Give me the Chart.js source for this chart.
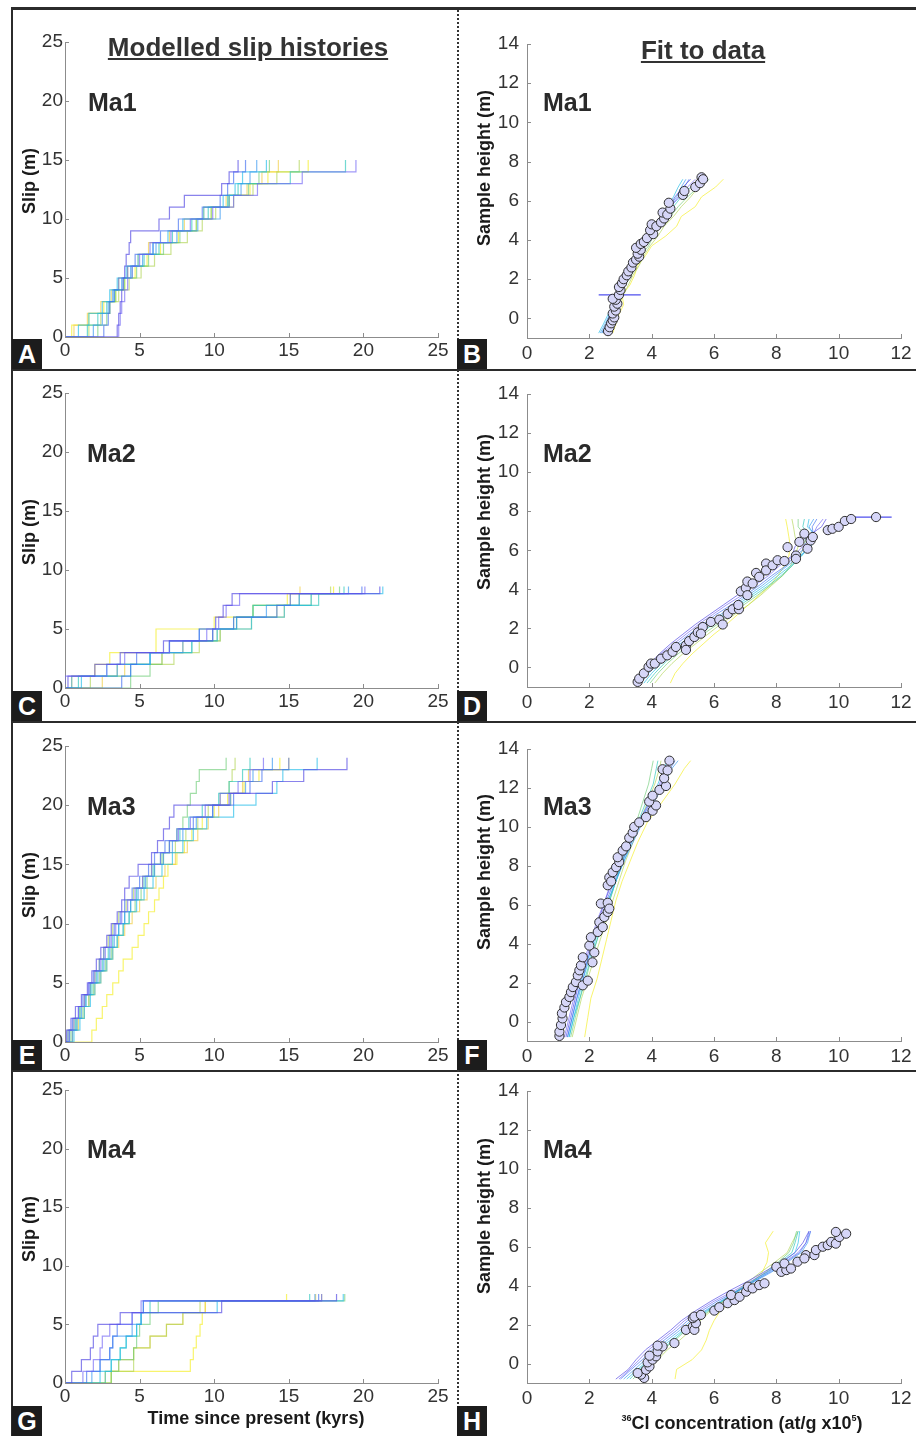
<!DOCTYPE html>
<html>
<head>
<meta charset="utf-8">
<script src="https://cdn.jsdelivr.net/npm/chart.js@4.4.0/dist/chart.umd.min.js"></script>
<style>
  body { margin: 0; background: #fff; width: 916px; height: 1436px; position: relative; overflow: hidden;
         font-family: "Liberation Sans", Arial, sans-serif; color: #222; }
  canvas { position: absolute; }
  .line { position: absolute; background: #2b2b2b; }
  .dots { position: absolute; border-left: 2px dotted #333; }
  .letter { position: absolute; width: 30px; height: 30px; background: #1c1c1c; color: #fff; font-weight: bold;
            font-size: 25px; line-height: 30px; text-align: center; z-index: 5; }
  .ma { position: absolute; font-weight: bold; font-size: 25px; line-height: 1; color: #2a2a2a; }
  .head { position: absolute; font-weight: bold; font-size: 26px; line-height: 1; color: #333;
          text-decoration: underline; transform: translateX(-50%); white-space: nowrap; }
  .ytitle { position: absolute; font-weight: bold; font-size: 18px; line-height: 1; color: #1a1a1a; white-space: nowrap;
            transform: translate(-50%, -50%) rotate(-90deg); }
  .xtitle { position: absolute; font-weight: bold; font-size: 18px; line-height: 1; color: #1a1a1a; white-space: nowrap;
            transform: translateX(-50%); }
  .xtitle sup { font-size: 9px; vertical-align: 8px; }
</style>
</head>
<body>

<div class="line" style="left:11px;top:7px;width:905px;height:3px"></div>
<div class="line" style="left:11px;top:7px;width:2px;height:1429px"></div>
<div class="line" style="left:11px;top:369px;width:905px;height:2px"></div>
<div class="line" style="left:11px;top:721px;width:905px;height:2px"></div>
<div class="line" style="left:11px;top:1070px;width:905px;height:2px"></div>
<div class="dots" style="left:457px;top:10px;height:1426px"></div>

<canvas id="cA"></canvas><canvas id="cB"></canvas>
<canvas id="cC"></canvas><canvas id="cD"></canvas>
<canvas id="cE"></canvas><canvas id="cF"></canvas>
<canvas id="cG"></canvas><canvas id="cH"></canvas>

<div class="head" style="left:248px;top:34px">Modelled slip histories</div>
<div class="head" style="left:703px;top:37px">Fit to data</div>

<div class="ma" style="left:88px;top:90px">Ma1</div>
<div class="ma" style="left:543px;top:90px">Ma1</div>
<div class="ma" style="left:87px;top:441px">Ma2</div>
<div class="ma" style="left:543px;top:441px">Ma2</div>
<div class="ma" style="left:87px;top:794px">Ma3</div>
<div class="ma" style="left:543px;top:794px">Ma3</div>
<div class="ma" style="left:87px;top:1137px">Ma4</div>
<div class="ma" style="left:543px;top:1137px">Ma4</div>

<div class="ytitle" style="left:29px;top:181px">Slip (m)</div>
<div class="ytitle" style="left:29px;top:532px">Slip (m)</div>
<div class="ytitle" style="left:29px;top:885px">Slip (m)</div>
<div class="ytitle" style="left:29px;top:1229px">Slip (m)</div>
<div class="ytitle" style="left:484px;top:168px">Sample height (m)</div>
<div class="ytitle" style="left:484px;top:512px">Sample height (m)</div>
<div class="ytitle" style="left:484px;top:872px">Sample height (m)</div>
<div class="ytitle" style="left:484px;top:1216px">Sample height (m)</div>

<div class="xtitle" style="left:256px;top:1409px">Time since present (kyrs)</div>
<div class="xtitle" style="left:742px;top:1414px"><sup>36</sup>Cl concentration (at/g x10<sup>5</sup>)</div>

<div class="letter" style="left:12px;top:339px">A</div>
<div class="letter" style="left:457px;top:339px">B</div>
<div class="letter" style="left:12px;top:691px">C</div>
<div class="letter" style="left:457px;top:691px">D</div>
<div class="letter" style="left:12px;top:1040px">E</div>
<div class="letter" style="left:457px;top:1040px">F</div>
<div class="letter" style="left:12px;top:1406px">G</div>
<div class="letter" style="left:457px;top:1406px">H</div>

<script>
// tick labels
const slipTicks = [0, 5, 10, 15, 20, 25];
const concTicks = [0, 2, 4, 6, 8, 10, 12];
const heightTicks = [0, 2, 4, 6, 8, 10, 12, 14];

// purple -> yellow, one colour per model run
const lineColors = ['rgba(88,78,228,0.7)', 'rgba(112,100,245,0.65)', 'rgba(62,108,240,0.65)', 'rgba(52,150,240,0.65)',
  'rgba(30,188,232,0.65)', 'rgba(40,196,186,0.65)', 'rgba(110,204,120,0.65)', 'rgba(176,212,84,0.65)',
  'rgba(240,204,64,0.65)', 'rgba(246,240,60,0.75)'];
const profileColorIdx = [0, 1, 2, 3, 4, 5, 6, 7, 9];

// ---- modelled slip histories: time (kyr) of each 1 m step, and end of record ----
const ma1Steps = [
  [3.5,3.6,3.7,3.8,3.9,4.0,4.1,4.3,4.4,6.3,7.0,8.0,10.5,11.0],
  [3.6,3.7,3.8,4.0,4.2,4.5,5.0,5.7,7.1,8.4,9.9,11.3,12.9,15.9],
  [2.6,2.9,3.0,3.3,3.6,4.2,4.7,5.9,6.4,7.6,9.2,10.4,10.9,11.3],
  [1.9,2.5,2.9,3.2,3.8,4.4,5.2,6.1,7.5,8.9,10.4,11.0,11.8,12.4],
  [0.9,1.6,2.5,3.0,3.5,4.1,4.9,5.9,6.9,7.9,9.3,10.6,11.4,11.9],
  [1.5,2.2,2.8,3.3,3.9,4.5,5.3,6.3,7.2,8.5,9.6,10.9,11.6,15.1],
  [2.2,2.8,3.0,3.4,4.0,4.8,5.6,6.6,7.7,8.8,9.8,11.0,12.3,13.0],
  [1.6,2.4,3.0,3.6,4.3,5.1,6.0,7.1,8.2,9.2,10.1,11.3,12.6,14.2],
  [0.6,1.5,2.4,3.1,3.6,4.2,4.9,5.6,7.0,8.0,9.3,10.8,12.2,13.2],
  [0.45,1.6,2.6,3.4,4.0,4.7,5.5,6.4,7.6,8.8,9.8,11.0,12.4,13.6]
];
const ma1Ends = [11.6, 19.5, 12.1, 12.85, 13.5, 18.8, 13.7, 15.7, 14.3, 16.3];
const ma1Top = 15;

const ma2Steps = [
  [0.2,2.0,3.7,6.6,9.9,10.1,10.6,11.2],
  [0.0,2.8,4.0,7.0,9.5,10.3,10.8,11.7],
  [3.8,4.4,4.8,7.0,9.0,11.3,14.2,15.1],
  [0.45,3.5,5.7,7.9,9.0,11.5,13.5,15.7],
  [1.1,2.8,5.7,8.5,10.2,12.5,14.7,16.5],
  [0.9,4.4,5.7,7.0,9.9,11.5,12.6,17.0],
  [4.4,5.7,6.5,8.5,10.4,11.3,12.6,15.7],
  [1.7,3.5,7.3,9.0,10.2,12.5,14.2,16.5],
  [2.5,4.0,6.5,7.9,10.4,11.5,14.7,15.1],
  [0.45,2.0,3.0,6.1,6.1,10.0,12.6,14.9]
];
const ma2Ends = [21.1, 20.1, 19.9, 19.0, 21.3, 18.7, 18.4, 17.8, 15.75, 18.0];
const ma2Top = 8.6;

const ma3Steps = [
  [0.1,0.4,0.7,1.1,1.5,1.8,2.1,2.4,2.8,3.1,3.5,3.8,4.0,4.3,4.9,5.8,6.2,6.6,7.0,7.3,11.0,13.9,16.0],
  [0.3,0.6,0.9,1.3,1.6,2.0,2.4,2.7,3.1,3.4,3.8,4.2,4.7,5.2,5.8,6.4,7.0,7.6,8.4,9.4,10.4,11.6,12.4],
  [0.2,0.5,0.9,1.2,1.6,1.9,2.3,2.6,3.0,3.3,3.7,4.0,4.5,5.0,5.6,6.0,6.7,7.5,8.6,9.9,11.3,12.4,13.2],
  [0.5,0.8,1.1,1.4,1.7,2.2,2.6,3.0,3.3,3.6,4.0,4.4,4.9,5.4,6.0,6.6,7.2,7.9,8.8,9.9,11.1,12.1,12.6],
  [0.6,1.0,1.3,1.7,2.0,2.4,2.8,3.2,3.5,3.9,4.3,4.8,5.3,5.9,6.5,7.2,7.9,8.6,9.5,11.3,12.8,14.2,14.6],
  [0.3,0.7,1.0,1.4,1.8,2.1,2.5,2.9,3.2,3.6,4.0,4.4,4.8,5.3,5.9,6.4,7.0,7.7,8.3,9.2,10.3,11.0,11.9],
  [0.4,0.8,1.2,1.6,1.9,2.3,2.7,3.1,3.5,3.9,4.3,4.7,5.1,5.5,6.0,6.5,7.0,7.5,7.9,8.2,8.4,8.8,9.0],
  [0.2,0.6,1.0,1.3,1.7,2.0,2.3,2.6,2.9,3.2,3.6,4.1,4.6,5.2,5.8,6.6,7.4,8.1,8.9,9.6,10.4,11.0,11.2],
  [0.5,0.9,1.3,1.6,2.0,2.4,2.8,3.2,3.6,4.0,4.5,5.0,5.5,6.1,6.7,7.4,8.2,8.9,9.6,10.3,11.1,11.9,12.3],
  [1.8,2.1,2.5,2.8,3.2,3.6,3.9,4.5,4.9,5.3,5.6,6.0,6.3,6.6,6.9,7.5,8.0,8.5,9.2,10.0,10.9,12.0,13.0]
];
const ma3Ends = [18.9, 13.3, 15.0, 13.9, 16.9, 12.4, 10.8, 11.4, 15.0, 14.4];
const ma3Top = 24;

const ma4Steps = [
  [0.45,1.1,1.7,1.9,2.2,3.7,10.5],
  [1.2,1.9,2.35,2.5,3.0,4.5,5.1],
  [1.45,2.35,3.0,3.2,3.5,4.5,5.25],
  [1.8,2.35,3.0,3.2,4.5,5.1,5.25],
  [2.35,3.1,3.7,4.1,4.8,5.1,10.2],
  [2.7,3.1,3.7,4.1,4.8,5.1,5.7],
  [3.1,3.6,4.6,4.8,5.0,5.7,6.25],
  [3.1,4.6,4.6,5.7,6.8,7.9,9.05],
  [2.7,3.6,4.6,5.7,6.8,7.9,9.4],
  [3.1,8.4,8.6,8.8,9.05,9.2,9.4]
];
const ma4Ends = [18.2, 17.2, 17.0, 16.75, 18.65, 16.4, 18.75, 17.2, 16.8, 14.85];
const ma4Top = 7.6;

// ---- 36Cl data: concentration (x1e5 at/g) and sample height (m) ----
const ma1Conc = [2.6,2.65,2.7,2.75,2.8,2.75,2.85,2.8,2.9,2.85,2.75,2.95,3.0,2.95,3.05,3.1,3.2,3.25,3.35,3.4,3.5,3.6,3.55,3.65,3.5,3.65,3.75,3.85,4.05,3.95,4.0,4.15,4.3,4.4,4.35,4.5,4.6,4.55,5.0,5.05,5.4,5.55,5.6,5.65];
const ma1Height = [-0.65,-0.45,-0.25,-0.1,0.05,0.25,0.4,0.6,0.75,0.95,1.0,1.2,1.45,1.6,1.8,2.0,2.2,2.4,2.6,2.85,3.0,3.15,3.3,3.5,3.6,3.8,3.9,4.1,4.3,4.5,4.8,4.7,4.9,5.1,5.4,5.3,5.6,5.9,6.3,6.5,6.7,6.9,7.2,7.1];

const ma2Conc = [3.55,3.6,3.75,3.9,3.98,4.1,4.3,4.5,4.67,4.78,5.1,5.1,5.2,5.37,5.48,5.64,5.58,5.9,6.17,6.28,6.44,6.6,6.8,6.78,6.86,7.02,7.07,7.07,7.24,7.35,7.45,7.67,7.67,7.88,8.04,8.26,8.36,8.63,8.63,8.74,8.9,9.0,9.1,9.17,9.65,9.8,10.0,10.2,10.4,11.2];
const ma2Height = [-0.74,-0.57,-0.3,0.03,0.2,0.2,0.45,0.62,0.8,1.05,1.13,0.9,1.35,1.56,1.8,2.07,1.73,2.33,2.45,2.2,2.74,2.98,2.98,3.2,3.9,4.07,4.4,3.7,4.3,4.84,4.64,5.32,4.97,5.23,5.49,5.45,6.16,5.73,5.56,6.43,6.85,6.08,6.5,6.68,7.03,7.1,7.2,7.5,7.6,7.7];

const ma3Conc = [1.04,1.04,1.09,1.14,1.12,1.2,1.25,1.36,1.41,1.47,1.57,1.79,1.95,1.63,1.68,1.73,1.79,2.1,2.16,2.0,2.05,2.27,2.32,2.43,2.48,2.59,2.37,2.59,2.64,2.59,2.64,2.7,2.75,2.86,2.96,2.91,3.07,3.18,3.28,3.39,3.44,3.6,3.82,4.03,4.14,3.92,4.03,4.25,4.46,4.4,4.35,4.51,4.57];
const ma3Height = [-0.74,-0.52,-0.18,0.16,0.42,0.72,1.0,1.26,1.51,1.77,2.03,1.86,2.1,2.37,2.63,2.88,3.3,3.04,3.55,3.9,4.33,4.6,5.1,4.85,5.37,5.63,6.06,6.1,5.8,7.0,7.4,7.2,7.67,7.93,8.19,8.44,8.78,9.0,9.44,9.7,10.0,10.23,10.5,10.83,11.1,11.3,11.6,11.9,12.1,12.5,12.96,12.9,13.4];

const ma4Conc = [3.76,3.66,3.55,3.82,3.93,3.87,4.03,4.14,3.93,4.19,4.35,4.19,4.73,5.1,5.32,5.37,5.42,5.32,5.37,5.58,6.01,6.17,6.44,6.66,6.55,6.82,7.03,7.09,7.24,7.45,7.62,8.0,8.16,8.32,8.26,8.47,8.68,8.95,8.9,9.22,9.27,9.49,9.65,9.76,9.91,10.02,9.91,10.24];
const ma4Height = [-0.74,-0.57,-0.49,-0.32,-0.15,0.06,0.2,0.37,0.4,0.62,0.88,0.92,1.05,1.73,1.9,1.73,2.07,2.33,2.41,2.5,2.72,2.89,3.1,3.26,3.52,3.43,3.69,3.95,3.86,4.03,4.12,4.97,4.71,4.8,5.14,4.88,5.23,5.57,5.4,5.57,5.83,6.0,6.08,6.25,6.16,6.5,6.76,6.67];

// big uncertainty bars
const ma1ErrConc = [2.3, 3.65], ma1ErrHeight = [1.2, 1.2];
const ma2ErrConc = [10.5, 11.7], ma2ErrHeight = [7.7, 7.7];

// ---- modelled concentration profiles (x1e5 at/g) at fixed heights ----
const ma1ModelHeights = [-0.75,-0.3,0.2,0.7,1.2,1.7,2.2,2.7,3.2,3.7,4.2,4.7,5.2,5.7,6.2,6.7,7.1];
const ma1Model = [
  [2.45,2.55,2.7,2.8,2.95,3.0,3.15,3.3,3.45,3.6,3.85,4.05,4.3,4.55,4.75,5.0,5.25],
  [2.5,2.6,2.75,2.85,2.9,3.05,3.2,3.35,3.5,3.7,3.85,4.1,4.35,4.6,4.85,5.15,5.4],
  [2.4,2.55,2.65,2.8,2.95,3.05,3.2,3.3,3.55,3.65,3.9,4.15,4.4,4.6,4.9,5.05,5.2],
  [2.35,2.5,2.65,2.75,2.9,3.05,3.15,3.35,3.5,3.7,3.9,4.15,4.35,4.55,4.8,4.95,5.1],
  [2.3,2.45,2.6,2.75,2.85,3.0,3.15,3.3,3.45,3.65,3.85,4.05,4.3,4.5,4.7,4.85,5.0],
  [2.4,2.55,2.7,2.85,3.0,3.1,3.25,3.45,3.6,3.75,3.95,4.25,4.45,4.7,4.95,5.25,5.55],
  [2.45,2.6,2.75,2.9,3.05,3.15,3.35,3.5,3.65,3.9,4.05,4.3,4.6,4.85,5.15,5.5,5.85],
  [2.55,2.7,2.85,2.95,3.1,3.25,3.4,3.6,3.75,3.95,4.2,4.4,4.7,4.95,5.25,5.5,5.75],
  [2.75,2.85,2.95,3.1,3.05,3.3,3.45,3.55,3.8,4.0,4.45,4.8,4.95,5.4,5.6,6.05,6.3]
];

const ma2ModelHeights = [-0.8,-0.3,0.2,0.7,1.2,1.7,2.2,2.7,3.2,3.7,4.2,4.7,5.2,5.7,6.2,6.7,7.2,7.6];
const ma2Model = [
  [3.5,3.7,3.95,4.25,4.6,5.0,5.4,5.85,6.3,6.75,7.2,7.6,8.0,8.5,8.6,9.0,9.45,9.6],
  [3.55,3.8,4.05,4.3,4.7,5.1,5.5,5.95,6.4,6.9,7.3,7.75,8.1,8.55,8.85,9.15,9.3,9.5],
  [3.6,3.8,4.1,4.45,4.8,5.2,5.65,6.05,6.55,7.0,7.45,7.85,8.3,8.6,9.0,9.2,9.15,9.3],
  [3.65,3.9,4.2,4.5,4.9,5.35,5.75,6.2,6.65,7.1,7.55,7.95,8.35,8.75,9.1,9.25,9.05,9.2],
  [3.75,4.0,4.3,4.65,5.0,5.4,5.85,6.3,6.75,7.2,7.65,8.05,8.45,8.8,9.1,9.3,9.0,9.05],
  [3.85,4.1,4.4,4.7,5.1,5.55,5.95,6.4,6.85,7.3,7.75,8.15,8.5,8.8,9.05,9.1,8.85,8.9],
  [3.95,4.2,4.5,4.85,5.25,5.65,6.1,6.5,6.95,7.4,7.8,8.2,8.5,8.75,8.9,8.95,8.7,8.7],
  [4.1,4.35,4.65,5.0,5.4,5.8,6.2,6.65,7.1,7.5,7.85,8.2,8.45,8.6,8.7,8.6,8.55,8.5],
  [4.6,4.75,5.0,5.3,5.65,6.0,6.4,6.75,7.1,7.45,7.8,8.05,8.25,8.4,8.45,8.4,8.35,8.3]
];

const ma3ModelHeights = [-0.8,0.2,1.2,2.2,3.2,4.2,5.2,6.2,7.2,8.2,9.2,10.2,11.2,12.2,13.0,13.4];
const ma3Model = [
  [1.25,1.4,1.55,1.7,1.9,2.1,2.3,2.5,2.75,3.0,3.3,3.6,3.95,4.3,4.5,4.6],
  [1.2,1.35,1.5,1.7,1.85,2.05,2.25,2.5,2.7,2.95,3.25,3.55,3.9,4.25,4.45,4.55],
  [1.3,1.45,1.6,1.8,1.95,2.15,2.35,2.55,2.8,3.05,3.35,3.65,4.0,4.35,4.6,4.75],
  [1.3,1.45,1.6,1.75,1.95,2.15,2.4,2.6,2.85,3.1,3.4,3.7,4.05,4.4,4.65,4.85],
  [1.35,1.5,1.65,1.8,2.0,2.2,2.4,2.6,2.85,3.1,3.35,3.6,3.9,4.2,4.4,4.5],
  [1.35,1.5,1.7,1.85,2.05,2.25,2.45,2.65,2.85,3.05,3.3,3.55,3.8,4.05,4.15,4.2],
  [1.4,1.55,1.7,1.9,2.05,2.25,2.45,2.65,2.85,3.05,3.25,3.5,3.7,3.9,4.0,4.05],
  [1.45,1.6,1.75,1.95,2.15,2.35,2.55,2.75,2.95,3.15,3.4,3.6,3.85,4.1,4.25,4.3],
  [1.85,1.95,2.05,2.25,2.4,2.55,2.7,2.85,3.05,3.3,3.55,3.85,4.3,4.75,5.05,5.25]
];

const ma4ModelHeights = [-0.8,-0.3,0.2,0.7,1.2,1.7,2.2,2.7,3.2,3.7,4.2,4.7,5.2,5.7,6.2,6.8];
const ma4Model = [
  [2.85,3.25,3.5,3.8,4.2,4.6,4.95,5.4,5.9,6.45,7.05,7.6,8.15,8.6,8.85,9.05],
  [2.95,3.3,3.6,3.9,4.3,4.7,5.05,5.5,6.0,6.6,7.15,7.7,8.25,8.7,8.95,9.1],
  [3.0,3.35,3.7,4.0,4.4,4.8,5.15,5.6,6.1,6.7,7.25,7.8,8.3,8.75,8.95,9.05],
  [3.1,3.45,3.8,4.1,4.5,4.9,5.25,5.7,6.2,6.75,7.3,7.85,8.35,8.8,9.0,9.1],
  [3.2,3.55,3.9,4.2,4.6,5.0,5.35,5.75,6.25,6.75,7.25,7.75,8.2,8.6,8.7,8.75],
  [3.3,3.6,3.95,4.3,4.7,5.05,5.4,5.8,6.25,6.7,7.2,7.7,8.1,8.5,8.6,8.7],
  [3.4,3.7,4.0,4.35,4.75,5.1,5.45,5.85,6.3,6.75,7.2,7.65,8.05,8.4,8.55,8.65],
  [3.6,3.9,4.2,4.5,4.9,5.25,5.55,5.9,6.3,6.7,7.1,7.5,7.95,8.35,8.5,8.7],
  [4.75,4.8,5.3,5.6,5.75,5.85,6.0,6.2,6.55,6.9,7.25,7.55,7.7,7.75,7.65,7.9]
];

// ---------------------------------------------------------------
function slipDatasets(steps, ends, top) {
  return steps.map((s, i) => ({
    data: [{ x: 0, y: 0 }].concat(s.map((t, k) => ({ x: t, y: k + 1 })), [{ x: ends[i], y: top }]),
    showLine: true,
    stepped: 'before',
    borderColor: lineColors[i],
    borderWidth: 1.2,
    pointRadius: 0
  }));
}

function profileDatasets(conc, height, errConc, errHeight, model, modelHeights) {
  const sets = [{
    data: conc.map((c, k) => ({ x: c, y: height[k] })),
    pointRadius: 4.6,
    pointBackgroundColor: 'rgba(214,214,248,1)',
    pointBorderColor: '#2e2e2e',
    pointBorderWidth: 1
  }];
  if (errConc) {
    sets.push({
      data: errConc.map((c, k) => ({ x: c, y: errHeight[k] })),
      showLine: true, pointRadius: 0, borderColor: 'rgba(60,60,235,0.9)', borderWidth: 1.2
    });
  }
  model.forEach((xs, i) => {
    sets.push({
      data: xs.map((c, k) => ({ x: c, y: modelHeights[k] })),
      showLine: true, pointRadius: 0, borderColor: lineColors[profileColorIdx[i]], borderWidth: 1
    });
  });
  return sets;
}

const inTicks = {
  id: 'inTicks',
  afterDraw(chart) {
    const { ctx, chartArea: a } = chart;
    const x = chart.scales.x, y = chart.scales.y;
    ctx.save();
    ctx.strokeStyle = '#8c8c8c';
    ctx.lineWidth = 1;
    ctx.beginPath();
    x.ticks.forEach(t => {
      const px = Math.round(x.getPixelForValue(t.value)) + 0.5;
      ctx.moveTo(px, a.bottom); ctx.lineTo(px, a.bottom - 4);
    });
    y.ticks.forEach(t => {
      const py = Math.round(y.getPixelForValue(t.value)) + 0.5;
      ctx.moveTo(a.left, py); ctx.lineTo(a.left + 4, py);
    });
    ctx.stroke();
    ctx.restore();
  }
};

function makePanel(id, box, area, xr, yr, xTicks, yTicks, yPad, xPad, datasets) {
  const cv = document.getElementById(id);
  cv.width = box.r - box.l;
  cv.height = box.b - box.t;
  cv.style.left = box.l + 'px';
  cv.style.top = box.t + 'px';
  const yW = area.l - box.l, xH = box.b - area.b;
  const tickFont = { family: 'Liberation Sans', size: 19 };
  new Chart(cv, {
    type: 'scatter',
    data: { datasets: datasets },
    options: {
      responsive: false,
      animation: false,
      events: [],
      layout: { autoPadding: false, padding: { top: area.t - box.t, right: box.r - area.r, left: 0, bottom: 0 } },
      plugins: { legend: { display: false }, tooltip: { enabled: false } },
      scales: {
        x: {
          type: 'linear', min: xr[0], max: xr[1],
          afterBuildTicks: s => { s.ticks = xTicks.map(v => ({ value: v })); },
          afterFit: s => { s.height = xH; s.paddingLeft = 0; s.paddingRight = 0; },
          grid: { display: false, drawTicks: false },
          border: { display: true, color: '#8c8c8c', width: 1 },
          ticks: { font: tickFont, color: '#333', padding: xPad, maxRotation: 0, autoSkip: false }
        },
        y: {
          type: 'linear', min: yr[0], max: yr[1],
          afterBuildTicks: s => { s.ticks = yTicks.map(v => ({ value: v })); },
          afterFit: s => { s.width = yW; s.paddingTop = 0; s.paddingBottom = 0; },
          grid: { display: false, drawTicks: false },
          border: { display: true, color: '#8c8c8c', width: 1 },
          ticks: { font: tickFont, color: '#333', padding: yPad, autoSkip: false }
        }
      }
    },
    plugins: [inTicks]
  });
}

const leftBox = [[14, 11, 456, 369], [14, 373, 456, 721], [14, 724, 456, 1070], [14, 1074, 456, 1436]];
const rightBox = [[460, 11, 916, 369], [460, 373, 916, 721], [460, 724, 916, 1070], [460, 1074, 916, 1436]];
const leftArea = [[65, 42, 438, 337], [65, 393, 438, 688], [65, 746, 438, 1042], [65, 1090, 438, 1383]];
const rightArea = [[527, 44, 901, 338], [527, 394, 901, 687], [527, 749, 901, 1041], [527, 1091, 901, 1383]];
const rect = a => ({ l: a[0], t: a[1], r: a[2], b: a[3] });

const slipSets = [
  slipDatasets(ma1Steps, ma1Ends, ma1Top),
  slipDatasets(ma2Steps, ma2Ends, ma2Top),
  slipDatasets(ma3Steps, ma3Ends, ma3Top),
  slipDatasets(ma4Steps, ma4Ends, ma4Top)
];
const profSets = [
  profileDatasets(ma1Conc, ma1Height, ma1ErrConc, ma1ErrHeight, ma1Model, ma1ModelHeights),
  profileDatasets(ma2Conc, ma2Height, ma2ErrConc, ma2ErrHeight, ma2Model, ma2ModelHeights),
  profileDatasets(ma3Conc, ma3Height, null, null, ma3Model, ma3ModelHeights),
  profileDatasets(ma4Conc, ma4Height, null, null, ma4Model, ma4ModelHeights)
];
const leftIds = ['cA', 'cC', 'cE', 'cG'];
const rightIds = ['cB', 'cD', 'cF', 'cH'];

for (let r = 0; r < 4; r++) {
  makePanel(leftIds[r], rect(leftBox[r]), rect(leftArea[r]), [0, 25], [0, 25], slipTicks, slipTicks, 2, 2, slipSets[r]);
  makePanel(rightIds[r], rect(rightBox[r]), rect(rightArea[r]), [0, 12], [-1, 14], concTicks, heightTicks, 8, 4, profSets[r]);
}
</script>
</body>
</html>
